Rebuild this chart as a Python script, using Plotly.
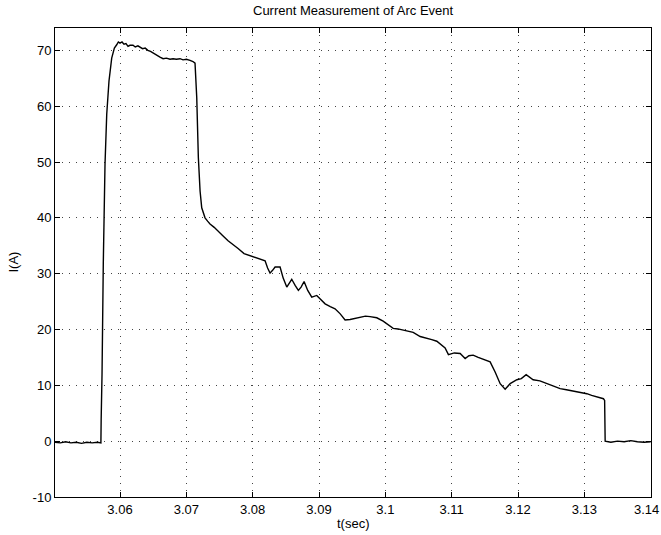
import plotly.graph_objects as go

# Arc event current trace: time in seconds, current in amperes
t_sec = [
    3.0502, 3.0510, 3.0518, 3.0526, 3.0534, 3.0542, 3.0550, 3.0558, 3.0566, 3.05712,
    3.05716, 3.05729, 3.05748, 3.05774, 3.05800, 3.05834, 3.05875, 3.05915, 3.05950, 3.05975,
    3.06000, 3.06030, 3.06060, 3.06090, 3.06121, 3.06150, 3.06196, 3.06230, 3.06270, 3.06302,
    3.06340, 3.06380, 3.06420, 3.06460, 3.06498, 3.06550, 3.06603, 3.06650, 3.06700, 3.06754,
    3.06800, 3.06850, 3.06905, 3.06950, 3.07000, 3.07056, 3.07100, 3.07131, 3.07157, 3.07181,
    3.07207, 3.07232, 3.07282, 3.07320, 3.07357, 3.07420, 3.07478, 3.07550, 3.07629, 3.07700,
    3.07780, 3.07870, 3.07961, 3.08050, 3.08120, 3.08187, 3.08225, 3.08262, 3.08300, 3.08338,
    3.08413, 3.08460, 3.08514, 3.08550, 3.08589, 3.08640, 3.08689, 3.08730, 3.08775, 3.08830,
    3.08891, 3.08966, 3.09030, 3.09092, 3.09170, 3.09242, 3.09320, 3.09393, 3.09469, 3.09540,
    3.09619, 3.09700, 3.09770, 3.09871, 3.09967, 3.10040, 3.10118, 3.10190, 3.10269, 3.10340,
    3.10420, 3.10525, 3.10626, 3.10700, 3.10776, 3.10826, 3.10901, 3.10951, 3.11040, 3.11128,
    3.11203, 3.11260, 3.11324, 3.11400, 3.11480, 3.11580, 3.11655, 3.11731, 3.11806, 3.11882,
    3.11983, 3.12050, 3.12123, 3.12228, 3.12330, 3.12435, 3.12530, 3.12635, 3.12730, 3.12831,
    3.12930, 3.13038, 3.13110, 3.13189, 3.13240, 3.13288, 3.13306, 3.13314, 3.1340, 3.1350,
    3.1360, 3.1370, 3.1380, 3.1390, 3.1400,
]
current_a = [
    -0.2, -0.3, -0.1, -0.3, -0.2, -0.4, -0.2, -0.3, -0.2, -0.3,
    4.0, 12.0, 31.8, 49.6, 58.6, 64.5, 68.6, 70.4, 71.0, 71.5,
    71.3, 71.5, 71.1, 71.2, 70.7, 70.9, 70.9, 70.6, 70.8, 70.6,
    70.3, 70.4, 70.0, 69.8, 69.5, 69.1, 68.8, 68.5, 68.6, 68.4,
    68.5, 68.4, 68.5, 68.3, 68.4, 68.2, 68.0, 67.7, 61.5, 50.8,
    44.8, 41.8, 40.0, 39.4, 38.9, 38.3, 37.7, 36.8, 35.9, 35.3,
    34.5, 33.6, 33.2, 32.8, 32.6, 32.3, 31.0, 30.1, 30.6, 31.2,
    31.2, 29.2, 27.6, 28.3, 29.0, 27.9, 27.0, 27.6, 28.6, 27.0,
    25.8, 26.1, 25.3, 24.6, 24.1, 23.7, 22.8, 21.7, 21.8, 22.0,
    22.1, 22.4, 22.3, 22.1, 21.5, 20.8, 20.2, 20.1, 19.9, 19.7,
    19.5, 18.75, 18.5, 18.2, 17.9, 17.4, 16.7, 15.5, 15.8, 15.7,
    14.8, 15.3, 15.4, 15.0, 14.7, 14.2, 12.4, 10.3, 9.3, 10.3,
    11.0, 11.2, 11.9, 11.0, 10.8, 10.3, 9.8, 9.4, 9.2, 9.0,
    8.8, 8.5, 8.2, 7.9, 7.8, 7.6, 7.3, 0.0, -0.2, 0.0,
    -0.1, 0.1, -0.1, -0.2, -0.1,
]

x_ticks = [3.06, 3.07, 3.08, 3.09, 3.10, 3.11, 3.12, 3.13, 3.14]
x_tick_text = ["3.06", "3.07", "3.08", "3.09", "3.1", "3.11", "3.12", "3.13", "3.14"]
y_ticks = [-10, 0, 10, 20, 30, 40, 50, 60, 70]
y_tick_text = ["-10", "0", "10", "20", "30", "40", "50", "60", "70"]

FONT = "Liberation Sans, Arial, Helvetica, sans-serif"

fig = go.Figure()
fig.add_trace(go.Scatter(
    x=t_sec, y=current_a, mode="lines",
    line=dict(color="black", width=1.4),
    showlegend=False, hoverinfo="skip",
))

axis_common = dict(
    showline=True, linecolor="black", linewidth=1, mirror="ticks",
    ticks="inside", ticklen=5, tickwidth=1, tickcolor="black",
    showgrid=True, gridcolor="#444444", gridwidth=1, griddash="1px,6px",
    zeroline=False, automargin=False,
    tickfont=dict(family=FONT, size=13, color="black"),
)

# the last x label sits at the page edge, so it is drawn as an annotation
# nudged just inside the canvas
fig.update_xaxes(range=[3.0502, 3.14005], tickmode="array",
                 tickvals=x_ticks, ticktext=x_tick_text[:-1] + [""], **axis_common)
fig.update_yaxes(range=[-10, 74], tickmode="array",
                 tickvals=y_ticks, ticktext=y_tick_text, **axis_common)

fig.update_layout(
    width=661, height=535,
    margin=dict(l=55, r=10, t=28, b=38),
    paper_bgcolor="white", plot_bgcolor="white",
    font=dict(family=FONT, size=13, color="black"),
    annotations=[
        dict(text="Current Measurement of Arc Event", xref="paper", yref="paper",
             x=0.5, y=1, yshift=18, showarrow=False, xanchor="center", yanchor="middle",
             font=dict(family=FONT, size=13, color="black")),
        dict(text=x_tick_text[-1], xref="x", yref="paper", x=x_ticks[-1], y=0,
             xanchor="right", yanchor="top", xshift=10, yshift=-3, showarrow=False,
             font=dict(family=FONT, size=13, color="black")),
        dict(text="t(sec)", xref="paper", yref="paper", x=0.5, y=0, yshift=-26,
             showarrow=False, xanchor="center", yanchor="middle",
             font=dict(family=FONT, size=13, color="black")),
        dict(text="I(A)", xref="paper", yref="paper", x=0, y=0.5, xshift=-42,
             textangle=-90, showarrow=False, xanchor="center", yanchor="middle",
             font=dict(family=FONT, size=13, color="black")),
    ],
)

fig.write_html("out.html")
